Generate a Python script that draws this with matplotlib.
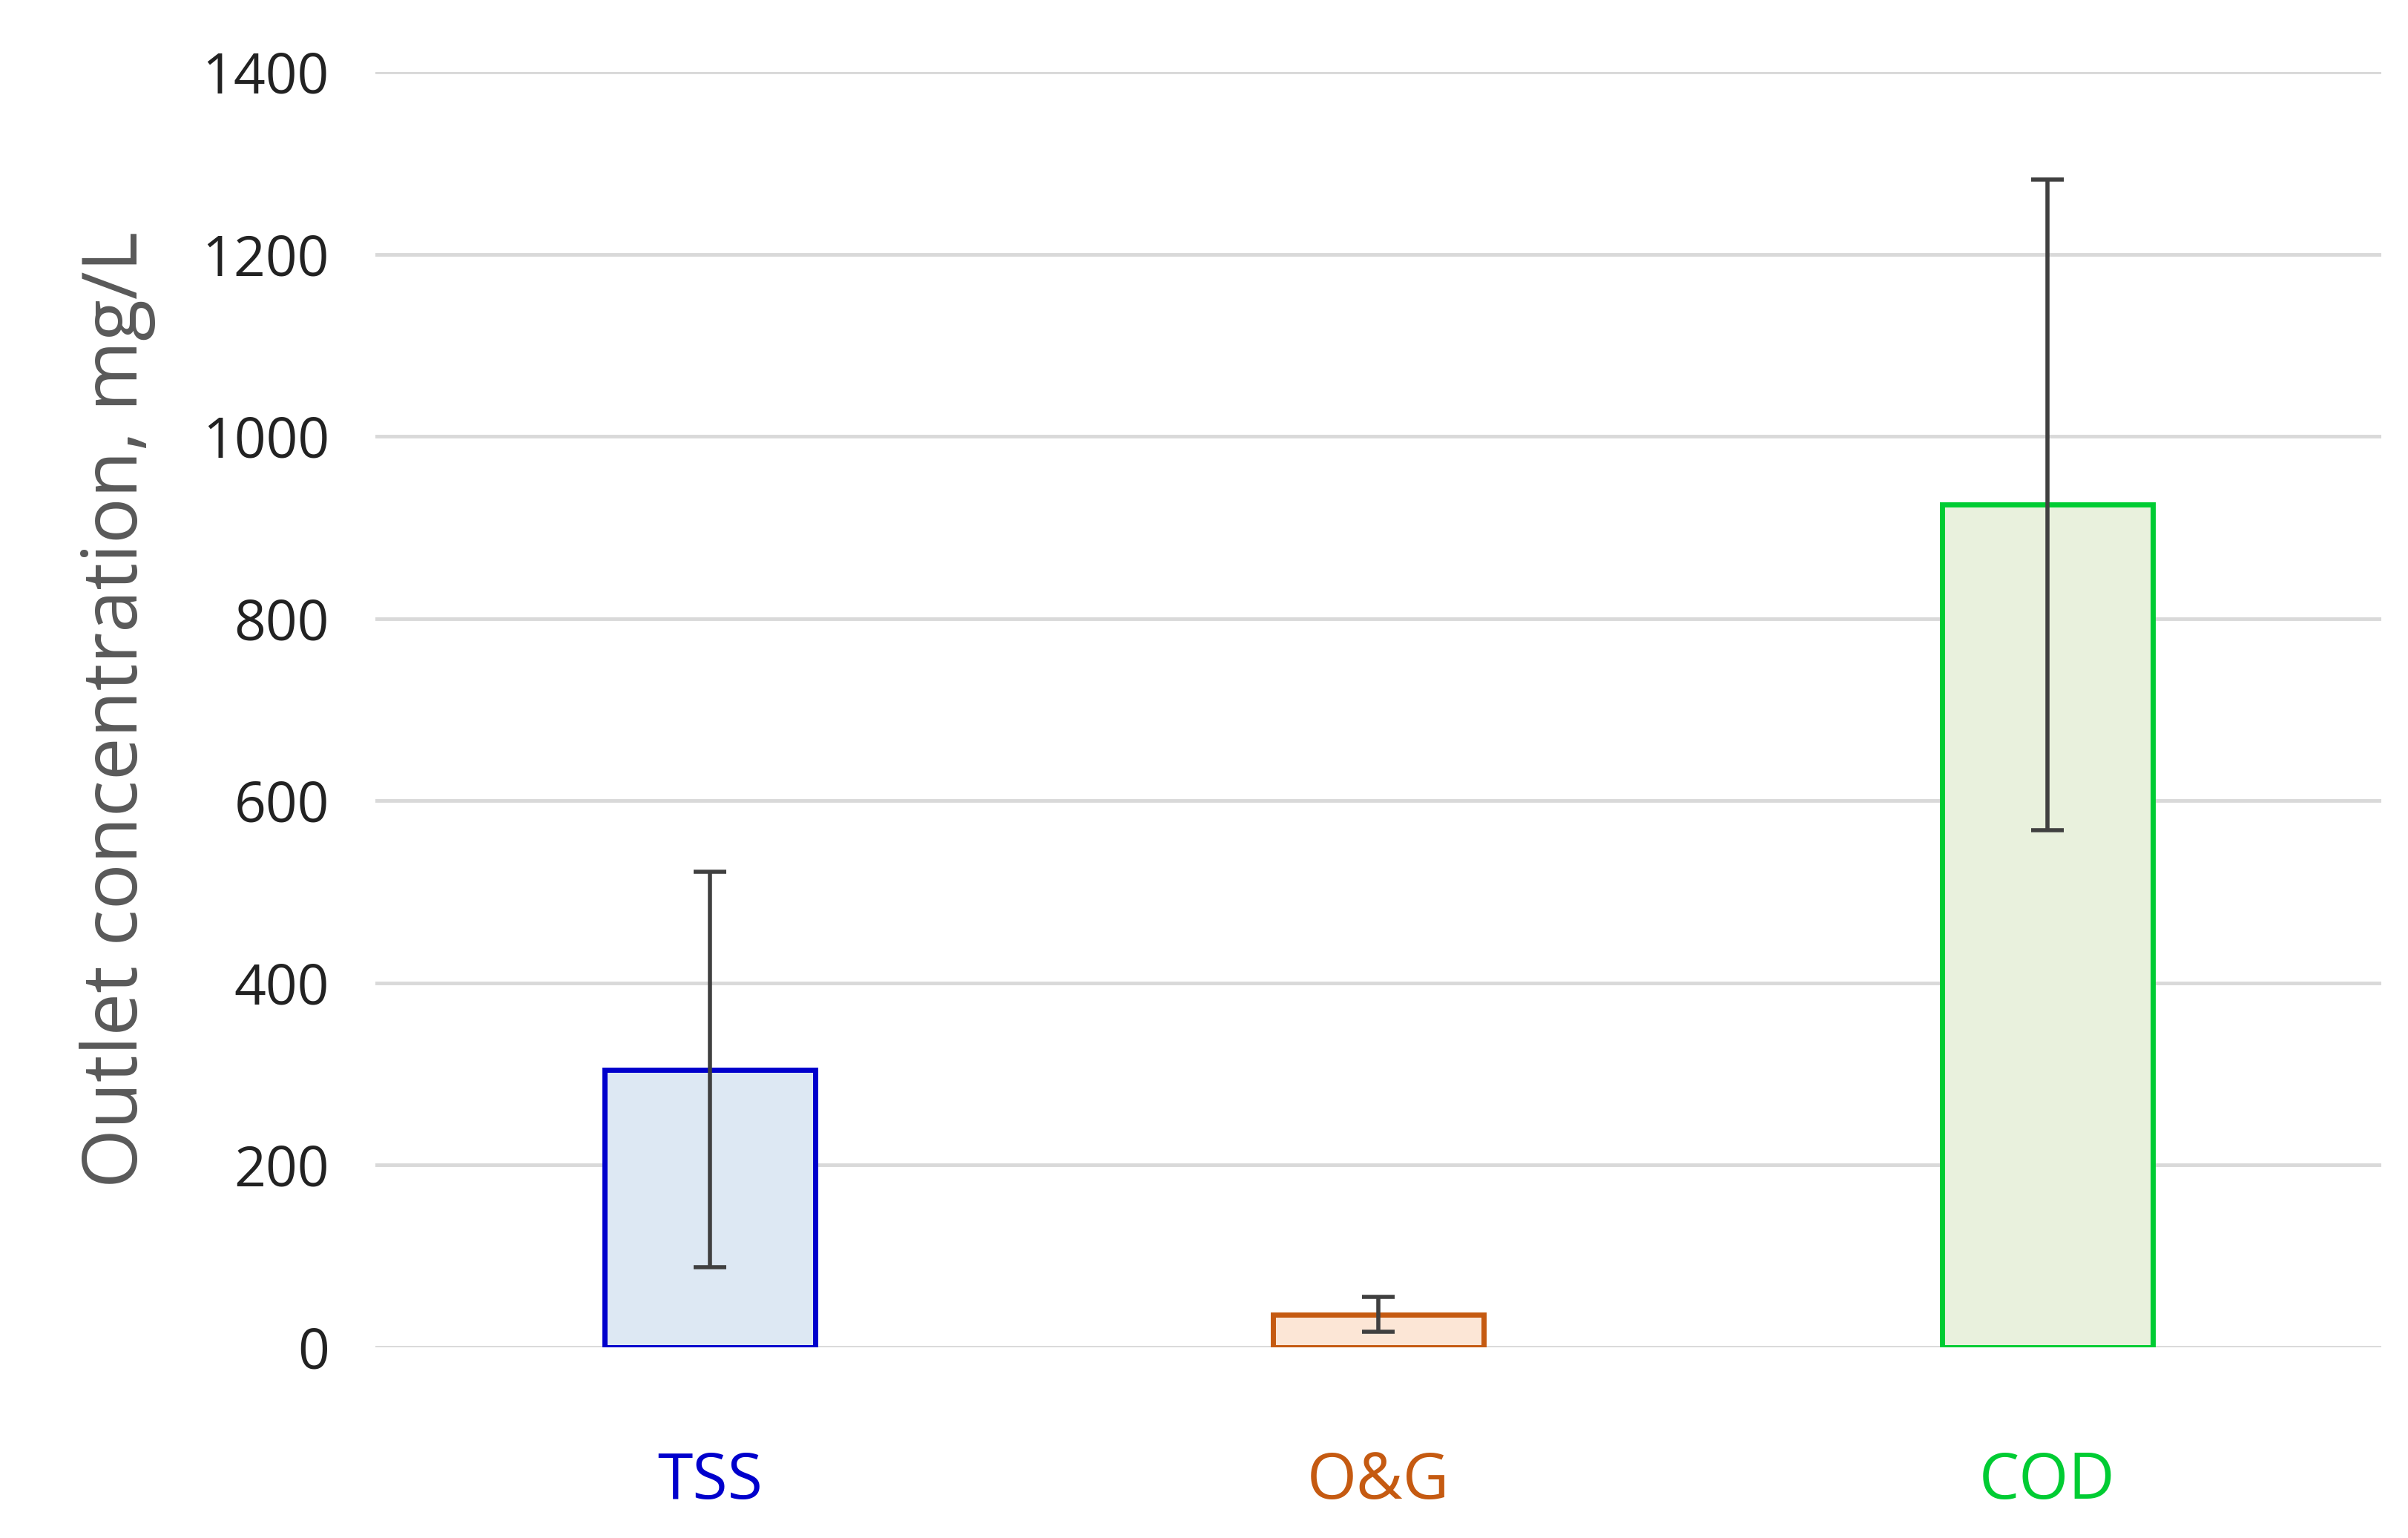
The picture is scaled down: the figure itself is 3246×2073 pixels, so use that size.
import matplotlib.pyplot as plt
import numpy as np

categories = ["TSS", "O&G", "COD"]
means = [305, 36, 925]
errors = [217, 19, 357]
edge_colors = ["#0000CC", "#C55A11", "#00CC33"]
fill_colors = ["#DDE8F3", "#FCE6D6", "#E9F1DD"]

plt.rcParams['font.family'] = ['Open Sans', 'DejaVu Sans']

fig = plt.figure(figsize=(32.46, 20.73), dpi=100)
ax = fig.add_axes([0.156, 0.124, 0.833, 0.829])

x = np.arange(len(categories))
ax.bar(x, means, width=0.315, color=fill_colors, edgecolor=edge_colors,
       linewidth=5, zorder=3)
ax.errorbar(x, means, yerr=errors, fmt="none", ecolor="#404040",
            elinewidth=4, capsize=16, capthick=4, zorder=4)

ax.set_xlim(-0.5, 2.5)
ax.set_ylim(0, 1400)
ax.set_yticks(range(0, 1401, 200))
ax.yaxis.grid(True, color="#D9D9D9", linewidth=3.5, zorder=0)
ax.set_axisbelow(True)
for s in ax.spines.values():
    s.set_visible(False)
ax.tick_params(axis="y", length=0, labelsize=54, pad=45, colors="#222222")
ax.set_xticks(x)
ax.set_xticklabels(categories, fontsize=62)
ax.tick_params(axis="x", length=0, pad=100)
for lbl, c in zip(ax.get_xticklabels(), edge_colors):
    lbl.set_color(c)
ax.set_ylabel("Outlet concentration, mg/L", fontsize=74, color="#595959", labelpad=45)

fig.savefig("out.png", dpi=100)
